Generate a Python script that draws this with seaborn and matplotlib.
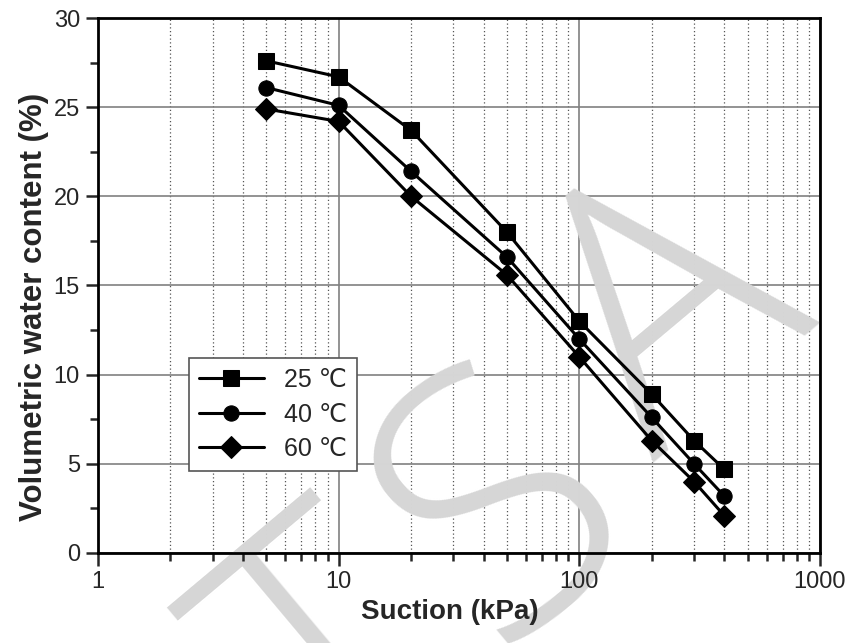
import seaborn as sns
import matplotlib.pyplot as plt
import matplotlib.ticker as mticker
import pandas as pd

suction = [5, 10, 20, 50, 100, 200, 300, 400]
wc_25 = [27.6, 26.7, 23.7, 18.0, 13.0, 8.9, 6.3, 4.7]
wc_40 = [26.1, 25.1, 21.4, 16.6, 12.0, 7.6, 5.0, 3.2]
wc_60 = [24.9, 24.2, 20.0, 15.6, 11.0, 6.3, 4.0, 2.1]
labels = ["25 \u2103", "40 \u2103", "60 \u2103"]

sns.set_style("white")
plt.rcParams["font.family"] = ["Liberation Sans", "DejaVu Sans"]

df = pd.concat(
    [
        pd.DataFrame({"suction": suction, "wc": v, "temp": lab})
        for v, lab in zip([wc_25, wc_40, wc_60], labels)
    ]
)

fig = plt.figure(figsize=(8.55, 6.43), dpi=100)
rect = [0.1146, 0.14, 0.8444, 0.832]

# background axes: grid, legend box and watermark
bg = fig.add_axes(rect, zorder=0)
bg.set_xscale("log")
bg.set_xlim(1, 1000)
bg.set_ylim(0, 30)
bg.set_yticks([0, 5, 10, 15, 20, 25, 30])
bg.yaxis.set_minor_locator(mticker.MultipleLocator(2.5))
bg.grid(True, which="major", color="#808080", linewidth=1.2, linestyle="-")
bg.grid(True, which="minor", axis="x", color="#555555", linewidth=0.9, linestyle=(0, (1, 2)))
bg.tick_params(which="both", length=0, labelbottom=False, labelleft=False)
for s in bg.spines.values():
    s.set_visible(False)

# front axes: data, ticks, labels
ax = fig.add_axes(rect, sharex=bg, sharey=bg, zorder=1)
ax.patch.set_alpha(0)
sns.lineplot(
    ax=ax, data=df, x="suction", y="wc", hue="temp", style="temp",
    palette=["black"] * 3, markers=["s", "o", "D"], dashes=False,
    markersize=11, linewidth=2.2, markeredgecolor="black", zorder=3,
)
ax.set_xlim(1, 1000)
ax.set_ylim(0, 30)
ax.xaxis.set_major_formatter(mticker.FuncFormatter(lambda v, p: f"{v:g}"))
ax.xaxis.set_minor_formatter(mticker.NullFormatter())
ax.grid(False)

for s in ax.spines.values():
    s.set_linewidth(2)
    s.set_color("black")
ax.tick_params(which="major", direction="out", length=9, width=1.8, labelsize=17,
               bottom=True, left=True, top=False, right=False, pad=4,
               labelbottom=True, labelleft=True)
ax.tick_params(which="minor", direction="out", length=6, width=1.8,
               bottom=True, left=True, top=False, right=False)

ax.set_xlabel("")
ax.set_ylabel("")
fig.text(0.526, 0.028, "Suction (kPa)", fontsize=20, fontweight="bold",
         ha="center", va="bottom")
fig.text(0.022, 0.522, "Volumetric water content (%)", fontsize=22.5,
         fontweight="bold", rotation=90, ha="left", va="center")

leg_kw = dict(loc="lower left", bbox_to_anchor=(0.126, 0.153), fontsize=18,
              handlelength=2.6, handletextpad=0.8, labelspacing=0.42,
              borderpad=0.4, borderaxespad=0)
h, l = ax.get_legend_handles_labels()
leg1 = bg.legend(h, l, frameon=True, fancybox=False, edgecolor="#555555",
                 framealpha=1, **leg_kw)
leg1.get_frame().set_linewidth(1.2)
leg1.set_zorder(2)
for t in leg1.get_texts():
    t.set_alpha(0)
for lh in leg1.legend_handles:
    lh.set_alpha(0)
ax.legend(h, l, frameon=False, **leg_kw)

# watermark letters
for ch, (px, py) in zip("TSA", [(344, 673), (508, 513), (677, 321)]):
    bg.text(px / 855, 1 - py / 643, ch, transform=fig.transFigure, fontsize=262,
            color="#d6d6d6", family="Open Sans", fontweight="light", rotation=40,
            ha="center", va="center", zorder=3, clip_on=False)

fig.savefig("out.png", dpi=100)
